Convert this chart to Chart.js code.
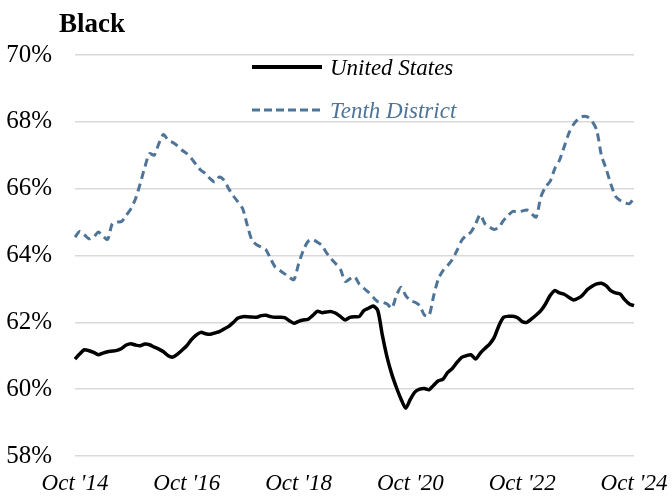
<!DOCTYPE html>
<html>
<head>
<meta charset="utf-8">
<script src="https://cdn.jsdelivr.net/npm/chart.js@4/dist/chart.umd.min.js"></script>
<style>
  html,body{margin:0;padding:0;background:#fff;}
  #wrap{width:672px;height:502px;position:relative;}
</style>
</head>
<body>
<div id="wrap"><canvas id="c" width="672" height="502"></canvas></div>
<script>
const chartTitle = "Black";
const seriesNames = ["United States", "Tenth District"];
const tickLabels = ["Oct '14", "Oct '16", "Oct '18", "Oct '20", "Oct '22", "Oct '24"];
const yTicks = [58, 60, 62, 64, 66, 68, 70];

const unitedStates = [
 60.90,61.05,61.18,61.15,61.10,61.03,61.08,61.12,61.14,61.16,
 61.22,61.32,61.36,61.32,61.30,61.35,61.33,61.26,61.20,61.12,
 61.00,60.96,61.05,61.17,61.30,61.48,61.62,61.70,61.66,61.64,
 61.68,61.72,61.80,61.88,62.00,62.13,62.17,62.17,62.16,62.15,
 62.20,62.21,62.17,62.15,62.15,62.14,62.05,61.97,62.03,62.07,
 62.09,62.20,62.33,62.29,62.31,62.32,62.27,62.17,62.07,62.15,
 62.17,62.17,62.35,62.42,62.49,62.35,61.60,60.95,60.45,60.05,
 59.70,59.43,59.70,59.92,60.00,60.02,59.98,60.12,60.25,60.30,
 60.50,60.62,60.80,60.95,61.00,61.03,60.90,61.08,61.22,61.35,
 61.55,61.90,62.15,62.18,62.18,62.14,62.02,62.00,62.10,62.22,
 62.35,62.55,62.80,62.95,62.88,62.84,62.75,62.67,62.72,62.82,
 62.98,63.08,63.15,63.17,63.10,62.95,62.88,62.85,62.68,62.55,
 62.50
];
const tenthDistrict = [
 64.55,64.72,64.62,64.50,64.55,64.70,64.58,64.48,64.95,65.00,
 65.02,65.20,65.40,65.70,66.15,66.65,67.05,67.00,67.35,67.62,
 67.45,67.38,67.28,67.15,67.05,66.90,66.72,66.55,66.45,66.30,
 66.20,66.35,66.25,66.00,65.78,65.60,65.40,64.90,64.45,64.32,
 64.25,64.17,63.90,63.65,63.55,63.45,63.35,63.28,63.75,64.15,
 64.42,64.48,64.40,64.30,64.08,63.90,63.75,63.58,63.22,63.30,
 63.37,63.15,63.02,62.90,62.75,62.62,62.60,62.55,62.42,62.80,
 63.05,62.80,62.65,62.60,62.50,62.22,62.20,62.80,63.30,63.55,
 63.70,63.88,64.15,64.45,64.60,64.70,64.95,65.22,64.95,64.85,
 64.78,64.85,65.05,65.20,65.32,65.30,65.33,65.36,65.25,65.15,
 65.75,66.05,66.22,66.60,66.85,67.25,67.65,67.92,68.08,68.16,
 68.15,68.02,67.75,67.00,66.60,66.15,65.78,65.65,65.58,65.55,
 65.72
];

// monthly categories Oct 2014 .. Oct 2024
const monthNames = ["Jan","Feb","Mar","Apr","May","Jun","Jul","Aug","Sep","Oct","Nov","Dec"];
const categories = unitedStates.map((_, i) => {
  const m = (9 + i) % 12, y = 2014 + Math.floor((9 + i) / 12);
  return monthNames[m] + " '" + String(y).slice(2);
});

const US_COLOR = "#000000";
const TD_COLOR = "#4E7498";
const FONT = "'Liberation Serif', 'DejaVu Serif', serif";

const overlay = {
  id: 'overlay',
  afterDraw(chart) {
    const ctx = chart.ctx;
    ctx.save();
    ctx.fillStyle = '#000';
    ctx.font = "bold 27px " + FONT;
    ctx.textBaseline = 'alphabetic';
    ctx.textAlign = 'left';
    ctx.fillText(chartTitle, 59, 32);

    // legend
    ctx.lineCap = 'butt';
    ctx.strokeStyle = US_COLOR;
    ctx.lineWidth = 4;
    ctx.beginPath(); ctx.moveTo(252, 67); ctx.lineTo(322, 67); ctx.stroke();
    ctx.font = "italic 23px " + FONT;
    ctx.fillStyle = US_COLOR;
    ctx.fillText(seriesNames[0], 330, 75);

    ctx.strokeStyle = TD_COLOR;
    ctx.lineWidth = 3;
    ctx.setLineDash([8, 4]);
    ctx.beginPath(); ctx.moveTo(252, 110); ctx.lineTo(322, 110); ctx.stroke();
    ctx.setLineDash([]);
    ctx.fillStyle = TD_COLOR;
    ctx.fillText(seriesNames[1], 330, 118);
    ctx.restore();
  }
};

new Chart(document.getElementById('c'), {
  type: 'line',
  data: {
    labels: categories,
    datasets: [
      { label: seriesNames[0], data: unitedStates, borderColor: US_COLOR, borderWidth: 3.5,
        pointRadius: 0, tension: 0.25, fill: false },
      { label: seriesNames[1], data: tenthDistrict, borderColor: TD_COLOR, borderWidth: 3,
        borderDash: [8, 5], pointRadius: 0, tension: 0.25, fill: false }
    ]
  },
  options: {
    responsive: false,
    animation: false,
    devicePixelRatio: 1,
    layout: { padding: { left: 0, right: 38, top: 55, bottom: 0 } },
    plugins: { legend: { display: false }, tooltip: { enabled: false }, title: { display: false } },
    scales: {
      x: {
        type: 'category',
        offset: false,
        grid: { display: false, drawTicks: false },
        border: { display: false },
        afterFit(s) { s.height = 46; s.paddingLeft = 0; s.paddingRight = 0; },
        ticks: {
          autoSkip: false, maxRotation: 0, minRotation: 0, padding: 14,
          color: '#000', font: { family: FONT, size: 23, style: 'italic' },
          callback(v, i) { return i % 24 === 0 ? tickLabels[i / 24] : null; }
        }
      },
      y: {
        min: 58, max: 70,
        afterFit(s) { s.width = 75; s.paddingTop = 0; s.paddingBottom = 0; },
        afterBuildTicks(s) { s.ticks = yTicks.map(v => ({ value: v })); },
        grid: { color: '#D9D9D9', lineWidth: 1.5, drawTicks: false },
        border: { display: false },
        ticks: {
          padding: 23, color: '#000',
          font: { family: FONT, size: 25 },
          callback(v) { return v + '%'; }
        }
      }
    }
  },
  plugins: [overlay]
});
</script>
</body>
</html>
